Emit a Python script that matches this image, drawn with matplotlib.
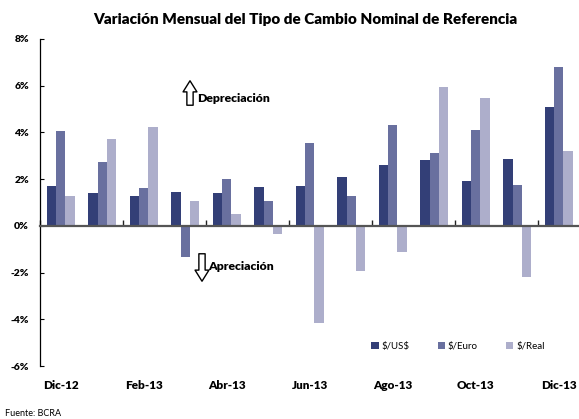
import matplotlib
matplotlib.use("Agg")
from matplotlib import pyplot as plt
from matplotlib.transforms import blended_transform_factory
import numpy as np

plt.rcParams["font.family"] = ["Lato", "DejaVu Sans"]

MONTHS = ["Dic-12", "Ene-13", "Feb-13", "Mar-13", "Abr-13", "May-13", "Jun-13",
          "Jul-13", "Ago-13", "Sep-13", "Oct-13", "Nov-13", "Dic-13"]
SERIES = ["\\$/US\\$", "\\$/Euro", "\\$/Real"]
usd = [1.72, 1.41, 1.28, 1.45, 1.41, 1.67, 1.71, 2.09, 2.61, 2.82, 1.92, 2.86, 5.09]
euro = [4.06, 2.73, 1.62, -1.35, 2.01, 1.07, 3.55, 1.28, 4.32, 3.12, 4.10, 1.75, 6.79]
real = [1.28, 3.72, 4.23, 1.07, 0.51, -0.37, -4.17, -1.95, -1.11, 5.94, 5.47, -2.21, 3.21]
COLORS = ["#333f77", "#69709f", "#adaecb"]
YTICKS = [-6, -4, -2, 0, 2, 4, 6, 8]

W, H = 579, 419
fig = plt.figure(figsize=(W / 100, H / 100), dpi=100)
ax = fig.add_axes([40 / W, (H - 366) / H, 539.5 / W, 327 / H])

x = np.arange(len(MONTHS))
bw = 0.225
for i, (vals, col, name) in enumerate(zip([usd, euro, real], COLORS, SERIES)):
    ax.bar(x + (i - 1) * bw, vals, width=bw, color=col, label=name, zorder=2)

ax.set_xlim(-0.5, len(MONTHS) - 0.5)
ax.set_ylim(-6, 8)
ax.set_yticks(YTICKS)
ax.set_yticklabels([f"{v}%" for v in YTICKS], fontweight="heavy", fontsize=7.5)
ax.tick_params(axis="y", direction="in", length=3, width=0.8, pad=8)

for s in ["top", "right"]:
    ax.spines[s].set_visible(False)
ax.spines["left"].set_linewidth(0.9)
ax.spines["bottom"].set_position(("data", 0))
ax.spines["bottom"].set_color("#555555")
ax.spines["bottom"].set_linewidth(1.6)
ax.spines["bottom"].set_zorder(3)
ax.set_xticks(np.arange(-0.5, len(MONTHS), 2))
ax.set_xticklabels([])
ax.tick_params(axis="x", direction="in", length=4, width=1, color="#222222")

trans = blended_transform_factory(ax.transData, ax.transAxes)
for k in range(0, len(MONTHS), 2):
    ax.text(k, -0.061, MONTHS[k], transform=trans, ha="center", va="center",
            fontsize=8.5, fontweight="heavy")

fig.text(305 / W, 1 - 19 / H, "Variación Mensual del Tipo de Cambio Nominal de Referencia",
         ha="center", va="center", fontsize=11, fontweight="heavy")
fig.text(5 / W, 1 - 413 / H, "Fuente: BCRA", ha="left", va="center", fontsize=6.5)

arrow = dict(arrowstyle="simple,head_length=0.8,head_width=1.0,tail_width=0.45",
             fc="white", ec="black", lw=1.0)
ax.annotate("", xy=(190, H - 78), xytext=(190, H - 108), xycoords="figure pixels",
            textcoords="figure pixels", arrowprops=arrow)
ax.annotate("", xy=(202, H - 284), xytext=(202, H - 251), xycoords="figure pixels",
            textcoords="figure pixels", arrowprops=arrow)
fig.text(197 / W, 1 - 98 / H, "Depreciación", ha="left", va="center", fontsize=8.8,
         fontweight="heavy")
fig.text(208 / W, 1 - 266 / H, "Apreciación", ha="left", va="center", fontsize=8.8,
         fontweight="heavy")

ax.legend(loc="center", bbox_to_anchor=(0.775, 0.061), ncol=3, frameon=False,
          fontsize=7, handlelength=0.75, handleheight=0.75, handletextpad=0.3,
          columnspacing=2.9)

fig.savefig("out.png", dpi=100)
